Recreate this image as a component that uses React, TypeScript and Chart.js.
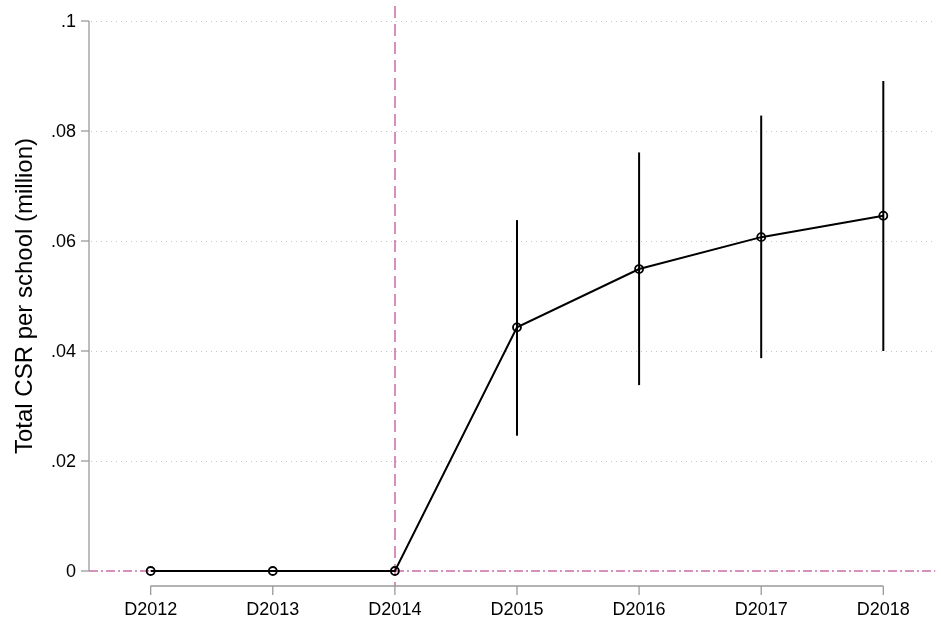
import React, { useEffect, useRef } from "react";
import { Chart, registerables } from "chart.js";

Chart.register(...registerables);

const categories = ["D2012", "D2013", "D2014", "D2015", "D2016", "D2017", "D2018"];
const estimates = [0, 0, 0, 0.0443, 0.0549, 0.0607, 0.0646];
const lowerCI = [null, null, null, 0.0246, 0.0338, 0.0387, 0.04];
const upperCI = [null, null, null, 0.0638, 0.0761, 0.0828, 0.0891];
const yTicks = [0, 0.02, 0.04, 0.06, 0.08, 0.1];
const yTickLabels = ["0", ".02", ".04", ".06", ".08", ".1"];
const eventIndex = 2;
const yTitle = "Total CSR per school (million)";

const FONT = "'Liberation Sans', Arial, Helvetica, sans-serif";
const PINK = "rgba(196, 92, 152, 0.9)";

const customPlugin = {
  id: "stataLook",
  beforeDatasetsDraw(chart: any) {
    const { ctx, chartArea, scales } = chart;
    const xs = scales.x;
    const ys = scales.y;
    ctx.save();
    // gridlines
    ctx.strokeStyle = "#c8c8c8";
    ctx.lineWidth = 1;
    ctx.setLineDash([1, 4]);
    yTicks.forEach((v) => {
      if (v === 0) return;
      const y = Math.round(ys.getPixelForValue(v)) + 0.5;
      ctx.beginPath();
      ctx.moveTo(chartArea.left + 2, y);
      ctx.lineTo(chartArea.right, y);
      ctx.stroke();
    });
    // horizontal reference line at 0
    ctx.strokeStyle = PINK;
    ctx.lineWidth = 1.3;
    ctx.setLineDash([9, 3, 2, 3]);
    const y0 = ys.getPixelForValue(0);
    ctx.beginPath();
    ctx.moveTo(chartArea.left, y0);
    ctx.lineTo(chartArea.right, y0);
    ctx.stroke();
    // vertical reference line
    ctx.setLineDash([12, 6]);
    ctx.lineWidth = 1.5;
    const xe = Math.round(xs.getPixelForValue(eventIndex));
    ctx.beginPath();
    ctx.moveTo(xe, chartArea.top);
    ctx.lineTo(xe, chartArea.bottom);
    ctx.stroke();
    ctx.setLineDash([]);

    // y axis
    ctx.strokeStyle = "#9a9a9a";
    ctx.lineWidth = 1.3;
    const ax = chartArea.left;
    ctx.beginPath();
    ctx.moveTo(ax, ys.getPixelForValue(0.1));
    ctx.lineTo(ax, ys.getPixelForValue(0));
    ctx.stroke();
    ctx.fillStyle = "#000";
    ctx.font = `18px ${FONT}`;
    ctx.textAlign = "right";
    ctx.textBaseline = "middle";
    yTicks.forEach((v, i) => {
      const y = ys.getPixelForValue(v);
      ctx.beginPath();
      ctx.moveTo(ax - 8, y);
      ctx.lineTo(ax, y);
      ctx.stroke();
      ctx.fillText(yTickLabels[i], ax - 13, y + 1);
    });
    // x axis
    const xa = chartArea.bottom;
    ctx.beginPath();
    ctx.moveTo(xs.getPixelForValue(0), xa);
    ctx.lineTo(xs.getPixelForValue(categories.length - 1), xa);
    ctx.stroke();
    ctx.textAlign = "center";
    ctx.textBaseline = "alphabetic";
    categories.forEach((c, i) => {
      const x = xs.getPixelForValue(i);
      ctx.beginPath();
      ctx.moveTo(x, xa);
      ctx.lineTo(x, xa + 9);
      ctx.stroke();
      ctx.fillText(c, x, xa + 29);
    });
    // y title
    ctx.save();
    ctx.font = `24px ${FONT}`;
    ctx.translate(32, (ys.getPixelForValue(0) + ys.getPixelForValue(0.1)) / 2);
    ctx.rotate(-Math.PI / 2);
    ctx.textAlign = "center";
    ctx.textBaseline = "alphabetic";
    ctx.fillText(yTitle, 0, 0);
    ctx.restore();

    // error bars
    ctx.strokeStyle = "#000";
    ctx.lineWidth = 2;
    categories.forEach((_, i) => {
      const lo = lowerCI[i];
      const hi = upperCI[i];
      if (lo == null || hi == null) return;
      const x = xs.getPixelForValue(i);
      ctx.beginPath();
      ctx.moveTo(x, ys.getPixelForValue(lo));
      ctx.lineTo(x, ys.getPixelForValue(hi));
      ctx.stroke();
    });
    ctx.restore();
  },
};

export default function App() {
  const ref = useRef<HTMLCanvasElement>(null);
  useEffect(() => {
    if (!ref.current) return;
    const chart = new Chart(ref.current, {
      type: "line",
      data: {
        datasets: [
          {
            data: estimates.map((v, i) => ({ x: i, y: v })),
            borderColor: "#000",
            borderWidth: 2,
            pointRadius: 4,
            pointBorderWidth: 1.8,
            pointBorderColor: "#000",
            pointBackgroundColor: "rgba(255,255,255,0)",
            tension: 0,
          },
        ],
      },
      options: {
        animation: false,
        responsive: false,
        maintainAspectRatio: false,
        layout: { padding: { left: 89, top: 6, right: 1, bottom: 36 } },
        plugins: { legend: { display: false }, tooltip: { enabled: false } },
        scales: {
          x: { type: "linear", display: false, min: -0.505, max: 6.425 },
          y: { type: "linear", display: false, min: -0.002727, max: 0.102727 },
        },
      },
      plugins: [customPlugin],
    });
    return () => chart.destroy();
  }, []);
  return (
    <div style={{ position: "fixed", left: 0, top: 0, width: 941, height: 622, background: "#fff" }}>
      <canvas ref={ref} width={941} height={622} style={{ width: 941, height: 622 }} />
    </div>
  );
}
